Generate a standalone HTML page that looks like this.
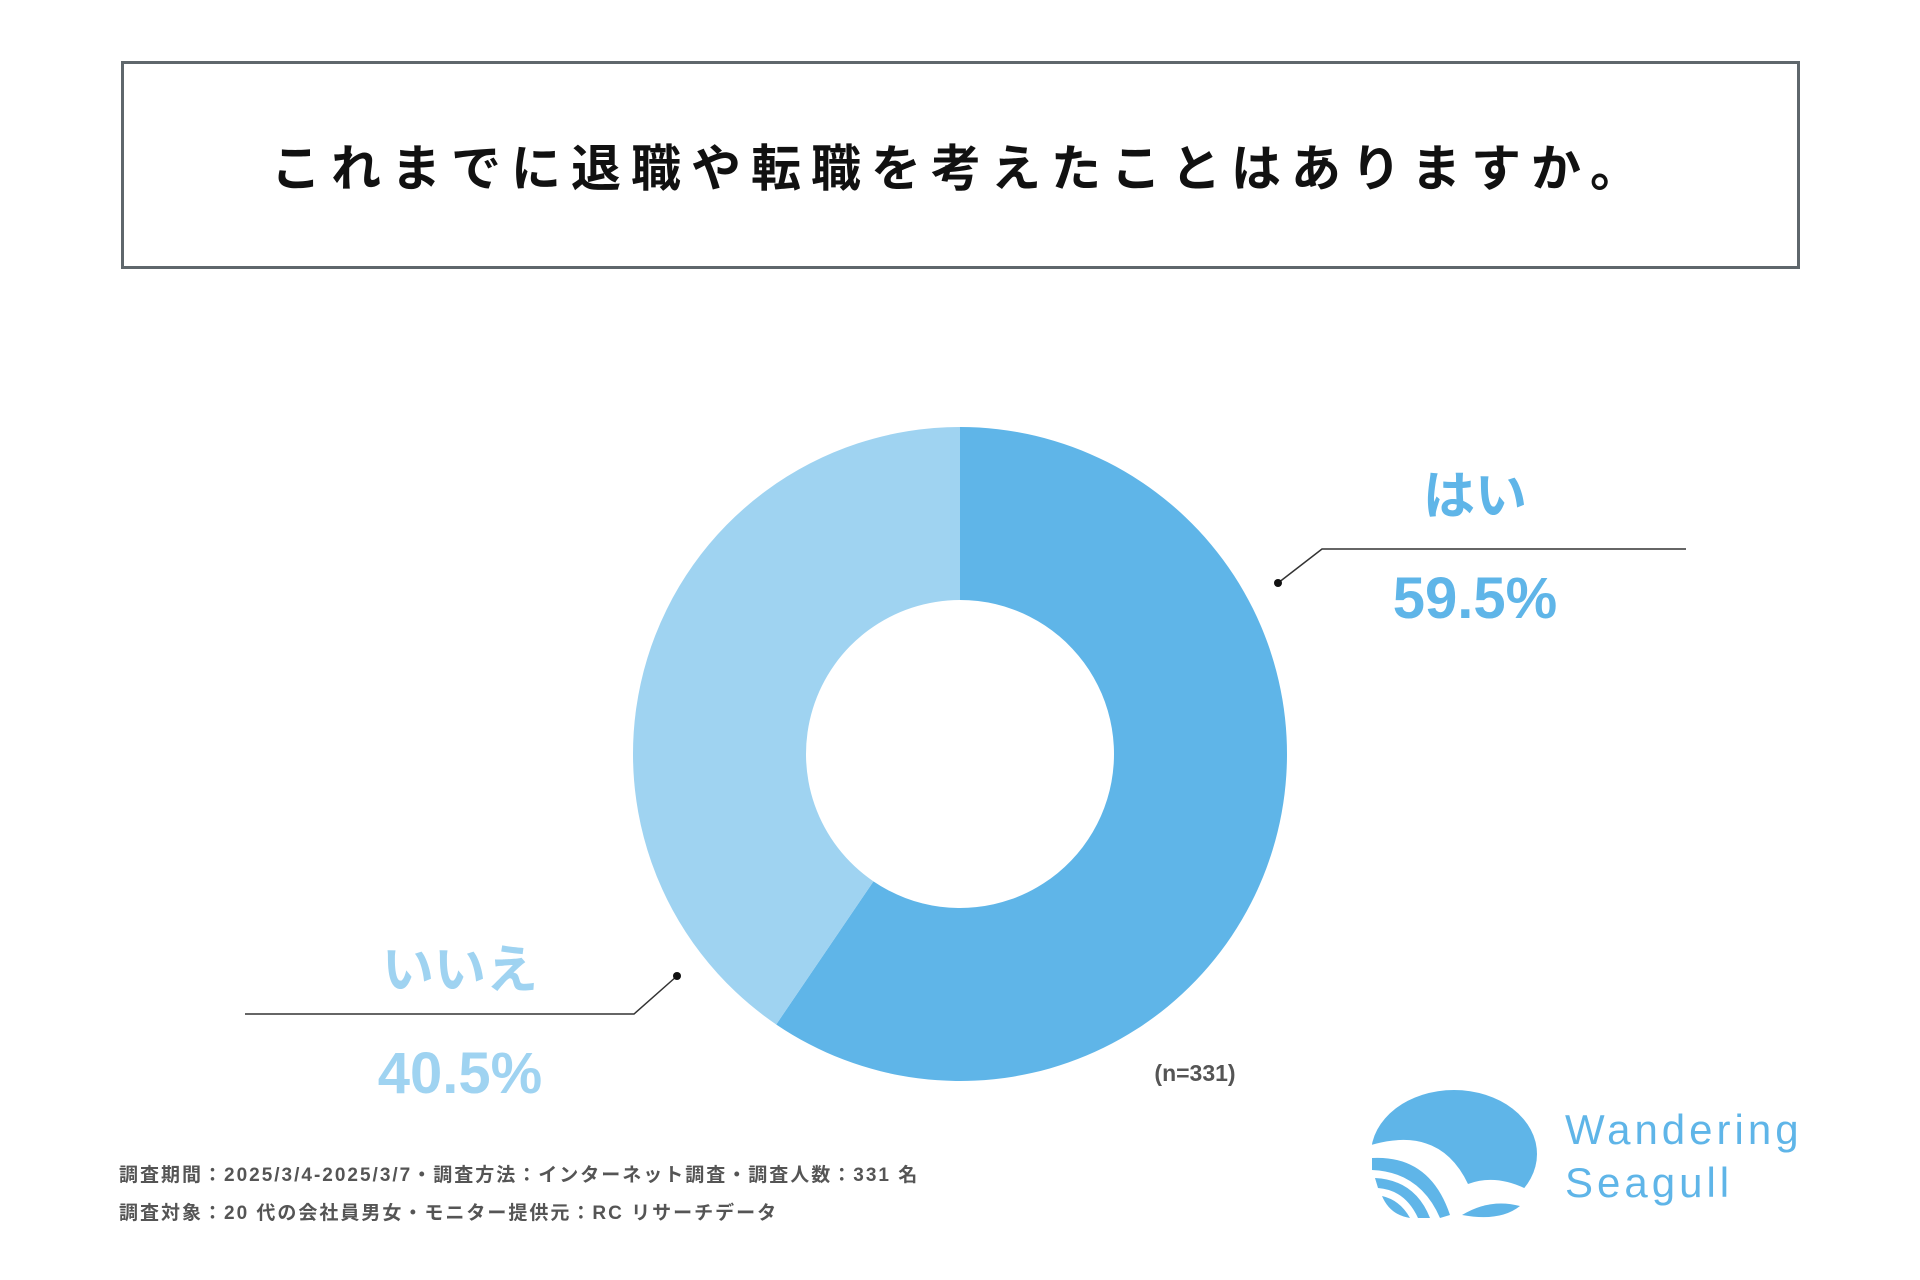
<!DOCTYPE html>
<html><head><meta charset="utf-8"><style>
body{margin:0;width:1920px;height:1280px;background:#fff;overflow:hidden;font-family:"Liberation Sans","Noto Sans CJK JP",sans-serif;}
#t{position:absolute;left:121px;top:61px;width:1673px;height:202px;border:3px solid #5f676c;display:flex;align-items:center;justify-content:center;font-size:50px;font-weight:bold;color:#111;letter-spacing:10px}
.f{position:absolute;left:119px;font-size:19px;font-weight:bold;color:#555;letter-spacing:2px}
</style></head><body>
<div id="t">これまでに退職や転職を考えたことはありますか。</div>
<svg id="c" width="1920" height="1280" style="position:absolute;left:0;top:0">
<g id="slices"></g>
<g id="labels" font-family="Liberation Sans, Noto Sans CJK JP, sans-serif" font-weight="bold" text-anchor="middle"></g>
<text x="1195" y="1081" font-size="23" fill="#555" text-anchor="middle" font-family="Liberation Sans, sans-serif" font-weight="bold">(n=331)</text>
<g>
<ellipse cx="1454" cy="1154" rx="83" ry="64" fill="#5fb5e8"/>
<path d="M1371 1145 Q1440 1125 1468 1184 Q1500 1172 1537 1195 L1537 1230 L1371 1230 Z" fill="#fff"/>
<path d="M1372 1158 Q1430 1155 1450 1215 L1440 1218 Q1420 1172 1372 1170 Z" fill="#5fb5e8"/>
<path d="M1375 1178 Q1415 1180 1430 1218 L1418 1218 Q1405 1190 1378 1188 Z" fill="#5fb5e8"/>
<path d="M1382 1196 Q1400 1200 1410 1218 Q1390 1215 1382 1196 Z" fill="#5fb5e8"/>
<path d="M1462 1215 Q1490 1198 1520 1206 Q1500 1222 1462 1215 Z" fill="#5fb5e8"/>
<text x="1565" y="1144" font-size="42" fill="#5fb5e8" font-family="Liberation Sans, sans-serif" letter-spacing="4">Wandering</text>
<text x="1565" y="1197" font-size="42" fill="#5fb5e8" font-family="Liberation Sans, sans-serif" letter-spacing="4">Seagull</text>
</g>
</svg>
<div class="f" style="top:1160px">調査期間：2025/3/4-2025/3/7・調査方法：インターネット調査・調査人数：331 名</div>
<div class="f" style="top:1198px">調査対象：20 代の会社員男女・モニター提供元：RC リサーチデータ</div>
<script>
const categories=["はい","いいえ"];
const values=[59.5,40.5];
const valueLabels=["59.5%","40.5%"];
const colors=["#5fb5e8","#9fd3f1"];
const cx=960,cy=754,R=327,r=154;
const ns="http://www.w3.org/2000/svg";
const total=values.reduce((a,b)=>a+b,0);
function pt(a,rad){return [cx+rad*Math.sin(a),cy-rad*Math.cos(a)];}
let a0=0;const g=document.getElementById('slices');
values.forEach((v,i)=>{
 const a1=a0+v/total*2*Math.PI;const lg=(a1-a0)>Math.PI?1:0;
 const p1=pt(a0,R),p2=pt(a1,R),p3=pt(a1,r),p4=pt(a0,r);
 const p=document.createElementNS(ns,'path');
 p.setAttribute('d',`M${p1[0]} ${p1[1]} A${R} ${R} 0 ${lg} 1 ${p2[0]} ${p2[1]} L${p3[0]} ${p3[1]} A${r} ${r} 0 ${lg} 0 ${p4[0]} ${p4[1]}Z`);
 p.setAttribute('fill',colors[i]);
 
 
 g.appendChild(p);a0=a1;
});
const L=document.getElementById('labels');
const conf=[{dot:[1278,583],elb:[1322,549],end:1686,tx:1475,ty1:514,ty2:618},{dot:[677,976],elb:[634,1014],end:245,tx:460,ty1:988,ty2:1093}];
conf.forEach((c,i)=>{
 const pl=document.createElementNS(ns,'polyline');
 pl.setAttribute('points',`${c.dot[0]},${c.dot[1]} ${c.elb[0]},${c.elb[1]} ${c.end},${c.elb[1]}`);
 pl.setAttribute('fill','none');pl.setAttribute('stroke','#333');pl.setAttribute('stroke-width','1.5');
 
 
 L.appendChild(pl);
 const d=document.createElementNS(ns,'circle');d.setAttribute('cx',c.dot[0]);d.setAttribute('cy',c.dot[1]);d.setAttribute('r',4);d.setAttribute('fill','#111');
 
 
 L.appendChild(d);
 const t1=document.createElementNS(ns,'text');t1.setAttribute('x',c.tx);t1.setAttribute('y',c.ty1);t1.setAttribute('font-size','52');t1.setAttribute('fill',colors[i]);t1.textContent=categories[i];
 
 
 L.appendChild(t1);
 const t2=document.createElementNS(ns,'text');t2.setAttribute('x',c.tx);t2.setAttribute('y',c.ty2);t2.setAttribute('font-size','58');t2.setAttribute('fill',colors[i]);t2.textContent=valueLabels[i];
 
 
 L.appendChild(t2);
});
</script>
</body></html>
